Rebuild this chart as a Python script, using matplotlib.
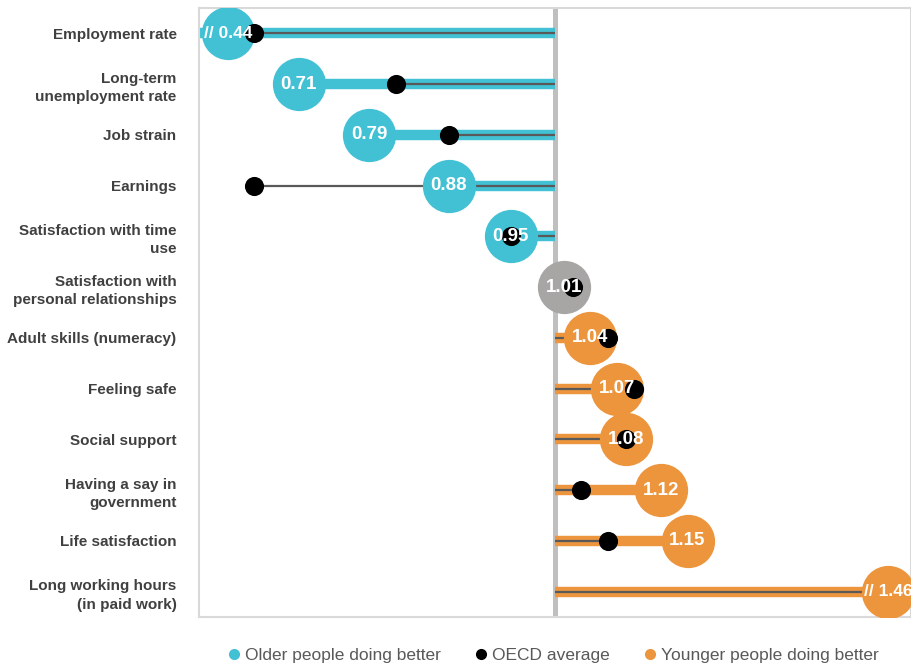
import matplotlib
matplotlib.use('Agg')
import matplotlib.pyplot as plt
from matplotlib.lines import Line2D
from matplotlib import font_manager
import numpy as np

categories = ["Employment rate", "Long-term\nunemployment rate", "Job strain",
              "Earnings", "Satisfaction with time\nuse",
              "Satisfaction with\npersonal relationships",
              "Adult skills (numeracy)", "Feeling safe", "Social support",
              "Having a say in\ngovernment", "Life satisfaction",
              "Long working hours\n(in paid work)"]
values = [0.44, 0.71, 0.79, 0.88, 0.95, 1.01, 1.04, 1.07, 1.08, 1.12, 1.15, 1.46]
oecd = [0.66, 0.82, 0.88, 0.66, 0.95, 1.02, 1.06, 1.09, 1.08, 1.03, 1.06, 1.50]
legend_labels = ["Older people doing better", "OECD average",
                 "Younger people doing better"]

blue = '#42C1D5'
orange = '#EC953C'
grey = '#A8A5A5'

names = {f.name for f in font_manager.fontManager.ttflist}
font = 'Liberation Sans Narrow' if 'Liberation Sans Narrow' in names else 'Liberation Sans'
plt.rcParams['font.family'] = [font, 'DejaVu Sans']

fig = plt.figure(figsize=(9.12, 6.65), dpi=100)
ax = fig.add_axes([0.218, 0.072, 0.781, 0.916])

lo, hi = 0.597, 1.403
brk_lo, brk_hi = 0.63, 1.377
y = np.arange(len(categories))

for i, (v, o) in enumerate(zip(values, oecd)):
    # near 1 = no real difference -> grey
    if abs(v - 1.0) < 0.02:
        col = grey
    elif v < 1.0:
        col = blue
    else:
        col = orange
    if col != grey:
        ax.plot([1.0, v], [i, i], color=col, lw=7.5, solid_capstyle='butt',
                zorder=2)
    ax.plot([1.0, o], [i, i], color='#595959', lw=1.6, solid_capstyle='butt',
            zorder=3)
    shown = min(max(v, brk_lo), brk_hi)
    ax.scatter(shown, i, s=1470, color=col, zorder=4, linewidths=0)
    ax.scatter(o, i, s=190, color='black', zorder=5, linewidths=0)
    txt = f'{v:.2f}'
    fs = 13.5
    if v < lo or v > hi:
        txt = '// ' + txt
        fs = 12.5
    ax.text(shown, i, txt, color='white', fontsize=fs, fontweight='bold',
            ha='center', va='center', zorder=6)

ax.axvline(1.0, color='#BFBFBF', lw=3.6, zorder=1)

ax.set_xlim(lo, hi)
ax.set_ylim(len(categories) - 0.5, -0.5)
ax.set_xticks([])
ax.set_yticks(y)
ax.set_yticklabels(categories, fontsize=11, fontweight='bold', color='#404040',
                   linespacing=1.4)
ax.tick_params(axis='y', length=0, pad=16)
for s in ax.spines.values():
    s.set_color('#D9D9D9')
    s.set_linewidth(1.5)

handles = [Line2D([], [], marker='o', ls='', color=c, markersize=7)
           for c in (blue, 'black', orange)]
fig.legend(handles, legend_labels, loc='lower center', ncol=3,
           bbox_to_anchor=(0.607, -0.02), frameon=False, fontsize=12.5,
           labelcolor='#595959', handlelength=0.6, handletextpad=0.35,
           columnspacing=2.0)

fig.savefig('out.png', dpi=100)
